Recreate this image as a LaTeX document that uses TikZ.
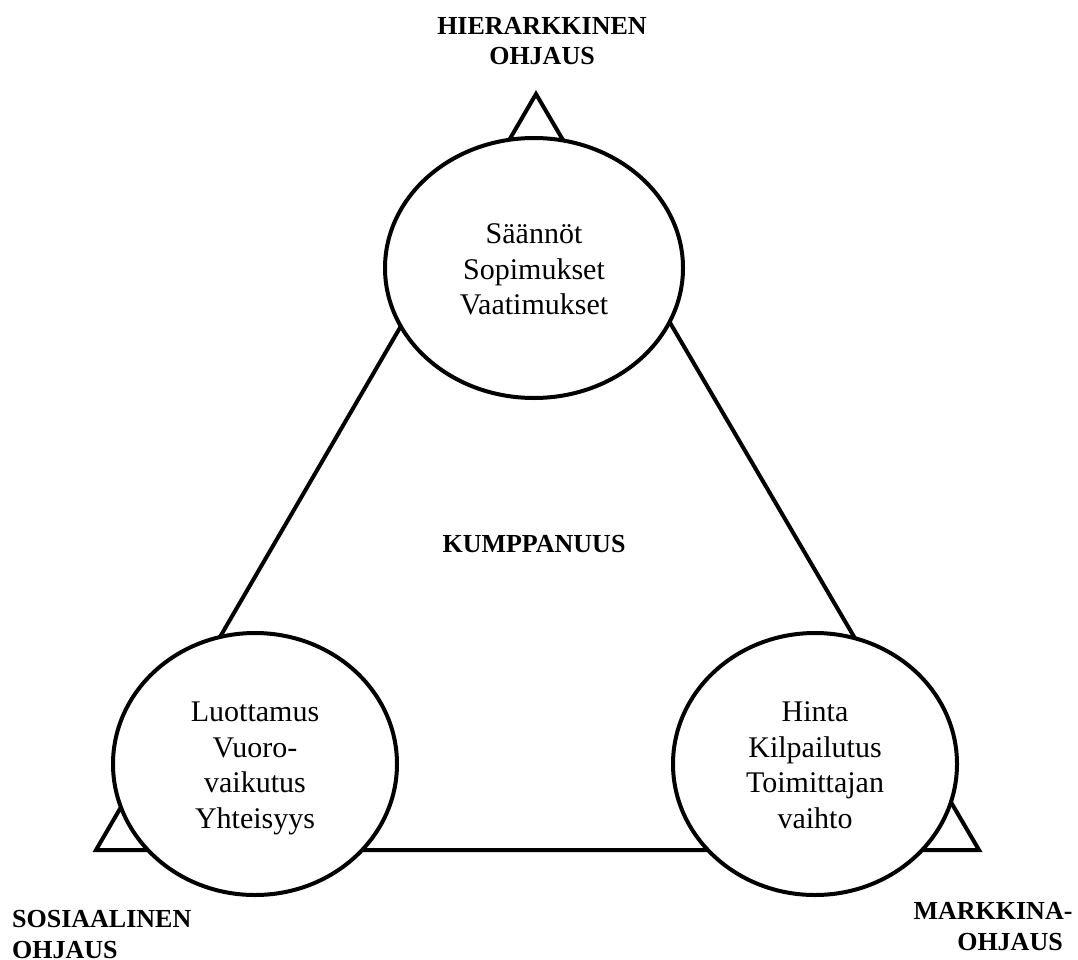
\documentclass[tikz,border=0pt]{standalone}
\usepackage{fontspec}
\setmainfont{Liberation Serif}
\usetikzlibrary{shapes.geometric}
\newcommand\myTopRule{\rule{0pt}{30pt}}
\newcommand\myBotRule{\rule[-8pt]{0pt}{8pt}}
\begin{document}
\begin{tikzpicture}[x=1pt,y=-1pt,
  edge/.style={line width=4pt, line join=miter},
  bubble/.style={ellipse, draw, line width=4pt, fill=white, inner sep=0pt, align=center,
    font=\fontsize{30}{35.4}\selectfont},
  lbl/.style={font=\fontsize{26}{30.7}\selectfont\bfseries, inner sep=0pt}]
\useasboundingbox[fill=white] (0,0) rectangle (1078,960);
\coordinate (A) at (536,94);
\coordinate (B) at (96,850);
\coordinate (C) at (979,850);
\draw[edge] (A) -- (B) -- (C) -- cycle;
\node[bubble, minimum width=298pt, minimum height=260pt] (top) at (534,268)
  {\myTopRule Säännöt\\Sopimukset\\Vaatimukset\myBotRule};
\node[bubble, minimum width=284pt, minimum height=262pt] (left) at (255,764)
  {\myTopRule Luottamus\\Vuoro-\\vaikutus\\Yhteisyys\myBotRule};
\node[bubble, minimum width=284pt, minimum height=262pt] (right) at (815,764)
  {\myTopRule Hinta\\Kilpailutus\\Toimittajan\\vaihto\myBotRule};
\node[lbl, align=center, anchor=base] (hier) at (542,65) {HIERARKKINEN\\OHJAUS};
\node[lbl, align=center, anchor=base] (kump) at (534,552) {KUMPPANUUS};
\node[lbl, align=left, anchor=base west] (sos) at (12,958) {SOSIAALINEN\\OHJAUS};
\node[lbl, align=center, anchor=base] (mark) at (993,950) {MARKKINA-\\\hspace*{34pt}OHJAUS};
\end{tikzpicture}
\end{document}
